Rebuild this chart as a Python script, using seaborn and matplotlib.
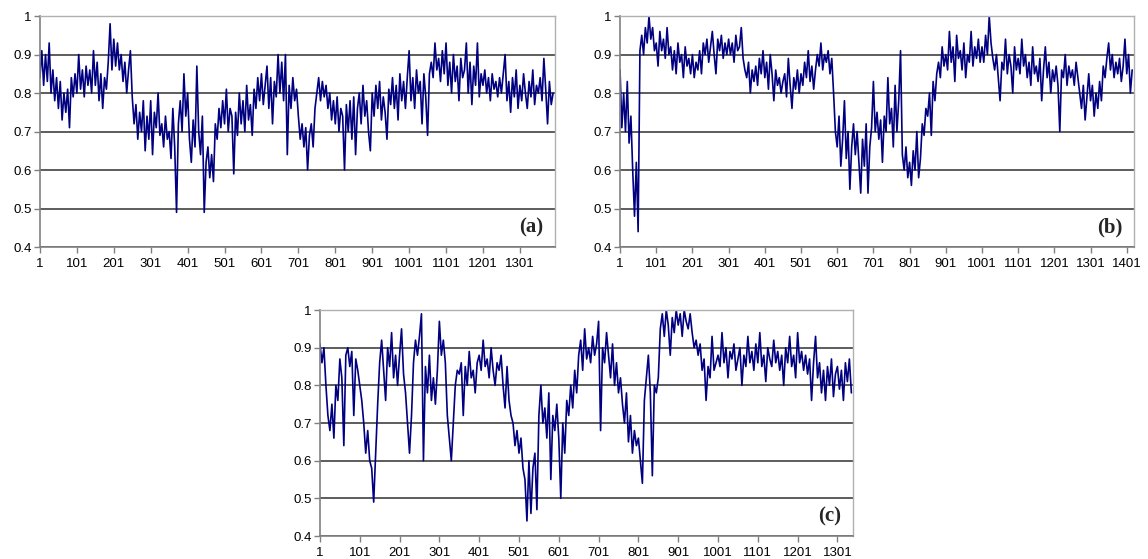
import matplotlib
matplotlib.use("Agg")
import matplotlib.pyplot as plt
import numpy as np
import pandas as pd
import seaborn as sns

# readings in hundredths, one every STEP samples starting at sample 1
STEP = 5

acc_a = [
    84, 91, 82, 90, 83, 93, 80, 86, 78, 84,
    76, 83, 73, 80, 75, 81, 71, 84, 79, 85,
    80, 90, 81, 86, 79, 87, 82, 86, 80, 91,
    82, 88, 78, 85, 76, 84, 81, 88, 98, 86,
    94, 87, 93, 86, 90, 83, 88, 80, 86, 91,
    79, 72, 77, 68, 75, 70, 78, 65, 74, 68,
    78, 64, 75, 71, 80, 69, 72, 66, 74, 68,
    70, 63, 76, 66, 49, 72, 78, 70, 85, 74,
    80, 68, 62, 73, 66, 87, 70, 64, 74, 49,
    62, 66, 58, 64, 57, 72, 68, 76, 71, 78,
    72, 81, 70, 76, 74, 59, 75, 69, 80, 72,
    78, 70, 82, 73, 77, 69, 81, 76, 84, 78,
    85, 77, 82, 87, 76, 84, 72, 83, 79, 90,
    80, 88, 78, 90, 64, 82, 76, 84, 78, 81,
    74, 68, 72, 66, 71, 60, 69, 72, 66, 76,
    80, 84, 78, 83, 79, 82, 76, 80, 73, 78,
    72, 79, 70, 76, 74, 60, 77, 70, 78, 68,
    79, 64, 76, 80, 72, 82, 74, 78, 70, 65,
    80, 74, 82, 76, 83, 73, 79, 75, 68, 81,
    77, 84, 76, 82, 73, 85, 78, 83, 76, 84,
    91, 78, 84, 76, 86, 80, 83, 72, 85, 79,
    69, 85, 88, 84, 93, 86, 89, 83, 91, 85,
    93, 82, 88, 80, 90, 83, 87, 78, 89, 84,
    86, 93, 80, 88, 77, 87, 82, 93, 79, 85,
    82, 86, 80, 84, 78, 85, 81, 83, 79, 84,
    80, 85, 90, 78, 83, 75, 84, 79, 86, 76,
    82, 78, 85, 80, 76, 83, 79, 86, 77, 82,
    80, 84, 78, 89, 81, 72, 83, 77, 80,
]

acc_b = [
    86, 71, 80, 70, 83, 67, 74, 60, 48, 62,
    44, 91, 95, 90, 97, 93, 100, 94, 97, 91,
    93, 87, 96, 91, 94, 89, 97, 90, 92, 86,
    91, 85, 93, 88, 90, 84, 92, 87, 89, 85,
    90, 84, 88, 86, 91, 85, 93, 90, 94, 88,
    92, 96, 90, 85, 94, 91, 95, 89, 93, 90,
    94, 90, 93, 88, 95, 91, 92, 97, 89, 86,
    84, 88, 80, 86, 83, 87, 82, 89, 85, 91,
    84, 88, 81, 90, 85, 78, 86, 82, 84, 80,
    83, 85, 79, 89, 82, 76, 84, 81, 86, 80,
    85, 82, 88, 84, 91, 83, 87, 81, 86, 90,
    87, 93, 86, 90, 88, 91, 85, 89, 80, 70,
    66, 74, 61, 68, 78, 63, 70, 55, 66, 72,
    64, 70, 62, 54, 68, 61, 72, 54, 66, 71,
    83, 70, 75, 68, 73, 62, 74, 70, 84, 72,
    76, 66, 82, 70, 78, 91, 64, 60, 66, 58,
    62, 56, 65, 60, 70, 58, 63, 72, 69, 76,
    74, 80, 69, 83, 78, 85, 88, 84, 92, 87,
    90, 86, 96, 88, 92, 83, 95, 89, 91, 86,
    93, 84, 90, 88, 96, 87, 92, 89, 94, 88,
    92, 88, 95, 90, 100, 93, 89, 86, 90, 84,
    78, 88, 86, 94, 85, 90, 87, 80, 92, 86,
    89, 85, 94, 87, 90, 84, 88, 82, 92, 85,
    87, 83, 89, 78, 86, 92, 84, 88, 80, 86,
    83, 87, 82, 70, 86, 84, 90, 82, 87, 84,
    86, 82, 88, 84, 80, 76, 82, 73, 79, 85,
    78, 82, 74, 80, 76, 83, 78, 87, 84, 89,
    93, 86, 90, 84, 88, 85, 89, 83, 87, 94,
    85, 90, 80, 86,
]

acc_c = [
    91, 86, 90, 80, 72, 68, 75, 66, 80, 76,
    87, 82, 64, 88, 90, 85, 89, 72, 87, 84,
    80, 76, 70, 62, 68, 60, 58, 49, 62, 75,
    86, 92, 84, 76, 90, 85, 94, 82, 88, 80,
    88, 95, 83, 78, 70, 62, 72, 86, 92, 88,
    93, 99, 60, 85, 78, 88, 76, 82, 75, 84,
    97, 88, 92, 86, 72, 66, 60, 70, 80, 84,
    83, 86, 72, 85, 80, 89, 82, 84, 78, 86,
    88, 84, 92, 85, 87, 82, 90, 84, 80, 86,
    84, 88, 80, 74, 85, 76, 72, 70, 64, 68,
    62, 66, 58, 55, 44, 60, 46, 58, 62, 47,
    72, 80, 70, 74, 66, 78, 55, 72, 68, 75,
    66, 50, 70, 62, 76, 72, 80, 74, 84, 78,
    88, 92, 84, 95, 87, 90, 86, 93, 88, 91,
    97, 68, 90, 86, 94, 88, 82, 91, 80, 86,
    78, 82, 75, 70, 78, 65, 72, 62, 68, 64,
    66, 60, 54, 76, 82, 88, 78, 56, 80, 78,
    82, 95, 99, 93, 100, 96, 88, 98, 94, 100,
    96, 99, 93, 100, 97, 95, 99, 94, 90, 92,
    88, 91, 84, 87, 76, 85, 82, 93, 84, 86,
    88, 85, 94, 86, 90, 82, 89, 87, 91, 84,
    87, 90, 80, 88, 85, 93, 86, 89, 84, 91,
    86, 94, 85, 88, 81, 90, 87, 85, 92, 86,
    89, 84, 88, 80, 90, 86, 93, 85, 88, 82,
    94, 86, 89, 84, 88, 83, 87, 76, 86, 93,
    82, 86, 78, 84, 76, 85, 80, 87, 77, 83,
    85, 79, 84, 76, 86, 81, 87, 78,
]

labels = ["(a)", "(b)", "(c)"]
x_ends = [1396, 1421, 1340]
last_ticks = [1301, 1401, 1301]
y_ticks = [0.4, 0.5, 0.6, 0.7, 0.8, 0.9, 1.0]
y_tick_labels = ["0.4", "0.5", "0.6", "0.7", "0.8", "0.9", "1"]

sns.set_theme(style="white")
plt.rcParams["font.family"] = ["Liberation Sans", "DejaVu Sans"]

fig = plt.figure(figsize=(11.48, 5.59), dpi=100)
rects = [
    [0.0348, 0.5581, 0.4486, 0.4132],
    [0.5401, 0.5581, 0.4477, 0.4132],
    [0.2787, 0.0411, 0.4643, 0.4043],
]

for vals, label, xmax, last, rect in zip([acc_a, acc_b, acc_c], labels, x_ends, last_ticks, rects):
    ax = fig.add_axes(rect)
    df = pd.DataFrame({"sample": 1 + STEP * np.arange(len(vals)), "acc": np.array(vals) / 100})
    sns.lineplot(data=df, x="sample", y="acc", color="#000080", linewidth=1.2, ax=ax)
    ax.set_xlim(1, xmax)
    ax.set_ylim(0.4, 1.0)
    ax.set_xticks(np.arange(1, last + 1, 100))
    ax.set_yticks(y_ticks)
    ax.set_yticklabels(y_tick_labels)
    ax.set_xlabel("")
    ax.set_ylabel("")
    ax.set_axisbelow(True)
    ax.yaxis.grid(True, color="#303030", linewidth=1.1)
    for side in ["left", "bottom"]:
        ax.spines[side].set_color("#808080")
        ax.spines[side].set_linewidth(1.2)
    for side in ["top", "right"]:
        ax.spines[side].set_color("#b0b0b0")
        ax.spines[side].set_linewidth(1.0)
    ax.tick_params(axis="both", direction="out", length=4, width=1, color="#808080",
                   labelsize=9.5, labelcolor="black", pad=2)
    ax.tick_params(axis="x", bottom=True, pad=4)
    ax.tick_params(axis="y", left=True)
    ax.text(0.978, 0.085, label, transform=ax.transAxes, ha="right", va="center",
            fontsize=15, fontweight="bold", family=["Liberation Serif", "DejaVu Serif"])

fig.savefig("out.png", dpi=100)
plt.close(fig)
